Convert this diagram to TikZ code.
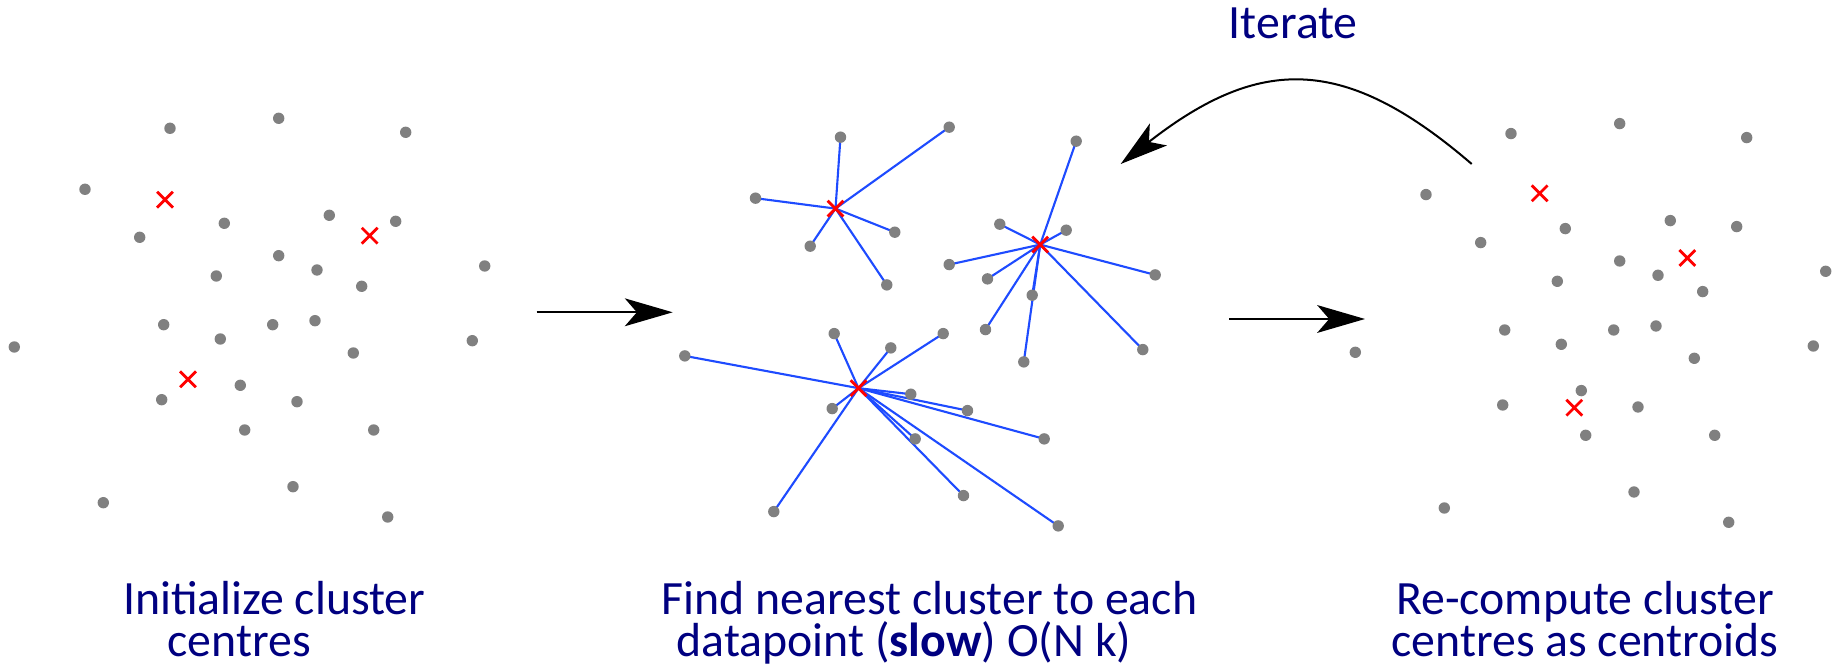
\documentclass[tikz,border=0pt]{standalone}
\usepackage{fontspec}
\setmainfont{Carlito}
\usetikzlibrary{arrows.meta, backgrounds, shapes.misc}
\definecolor{Cpt}{RGB}{128,128,128}
\definecolor{Ccen}{RGB}{255,0,0}
\definecolor{Clink}{RGB}{30,75,255}
\definecolor{Ctxt}{RGB}{0,0,128}
\tikzset{
  datapt/.style={circle, fill=Cpt, inner sep=0pt, minimum size=1.14mm},
  centre/.style={cross out, draw=Ccen, line width=0.8pt, inner sep=0pt, minimum size=1.3mm},
  link/.style={Clink, line width=0.6pt},
  arr/.style={-{Stealth[length=13.6pt, width=7.9pt, inset=3.4pt]}, line width=0.65pt},
  caption/.style={text=Ctxt, align=center, font=\fontsize{13.6}{12.2}\selectfont},
}
%% the same 28 data points in every panel: x/y/nearest initial centre
\newcommand\kmpoints{170/128.3/1, 278.7/118.3/1, 405.7/132.3/2, 85/189.3/1,
  224.3/223.3/1, 329.3/215.3/2, 395.7/221.3/2, 139.7/237.3/1, 278.7/255.7/2,
  317/270/2, 216.3/276/1, 361.7/286.3/2, 484.7/266/2, 163.7/324.7/3,
  272.7/324.7/3, 315/320.7/2, 14.3/347/3, 220.3/339/3, 353.3/353/2,
  472.3/340.7/2, 240.3/385.3/3, 161.7/399.7/3, 297/401.7/3, 244.7/430/3,
  373.7/430/3, 293/486.7/3, 103.3/502.7/3, 387.7/517/3}

\begin{document}
\begin{tikzpicture}[x=0.1mm, y=-0.1mm]
\useasboundingbox (0,0) rectangle (1845,670);

%%==========================================================================
%% PANEL 1 --- data with random initial centres
%%==========================================================================
\foreach \x/\y/\k [count=\i] in \kmpoints {
  \node[datapt] (a\i) at (\x,\y) {};
}
\node[centre] (c1) at (165,199.7) {};
\node[centre] (c2) at (369.7,235.7) {};
\node[centre] (c3) at (188,379.3) {};

\node[caption, anchor=base] (init) at (274.2,657)
  {Initialize cluster\\centres\hspace*{7mm}};

%%==========================================================================
%% PANEL 2 --- assignment of each point to its nearest centre
%%==========================================================================
\begin{scope}[shift={(670.5,8.9)}]
  \foreach \x/\y/\k [count=\i] in \kmpoints {
    \node[datapt] (b\i) at (\x,\y) {};
  }
  \node[centre] (m1) at (165,199.7) {};
  \node[centre] (m2) at (369.7,235.7) {};
  \node[centre] (m3) at (188,379.3) {};
  %% links sit behind the dots and crosses
  \begin{scope}[on background layer]
    \foreach \x/\y/\k [count=\i] in \kmpoints {
      \draw[link] (m\k.center) -- (b\i.center);
    }
  \end{scope}
\end{scope}

\node[caption, anchor=base] (assign) at (929.5,657)
  {Find nearest cluster to each\\datapoint (\textbf{slow}) O(N k)\hspace*{5.1mm}};

%%==========================================================================
%% PANEL 3 --- centres moved to the centroids
%%==========================================================================
\begin{scope}[shift={(1341,5.3)}]
  \foreach \x/\y/\k [count=\i] in \kmpoints {
    \node[datapt] (d\i) at (\x,\y) {};
  }
  \node[centre] (n1) at (198.7,188) {};
  \node[centre] (n2) at (346.3,252.7) {};
  \node[centre] (n3) at (233.3,402.4) {};
\end{scope}

\node[caption, anchor=base] (update) at (1585,657)
  {Re-compute cluster\\centres as centroids};

%% Step arrows
\coordinate (s1) at (536.7,312.3);
\coordinate (e1) at (672.7,312.3);
\coordinate (s2) at (1229.3,319);
\coordinate (e2) at (1365,319);
\draw[arr] (s1) -- (e1);
\draw[arr] (s2) -- (e2);

%% Loop back
\coordinate (it0) at (1471.7,164);
\coordinate (it1) at (1120.7,164);
\draw[arr, line width=0.57pt] (it0) .. controls (1345,55) and (1260,55) .. (it1);
\node[caption, anchor=base] (iter) at (1293.3,39) {Iterate};

\end{tikzpicture}
\end{document}
